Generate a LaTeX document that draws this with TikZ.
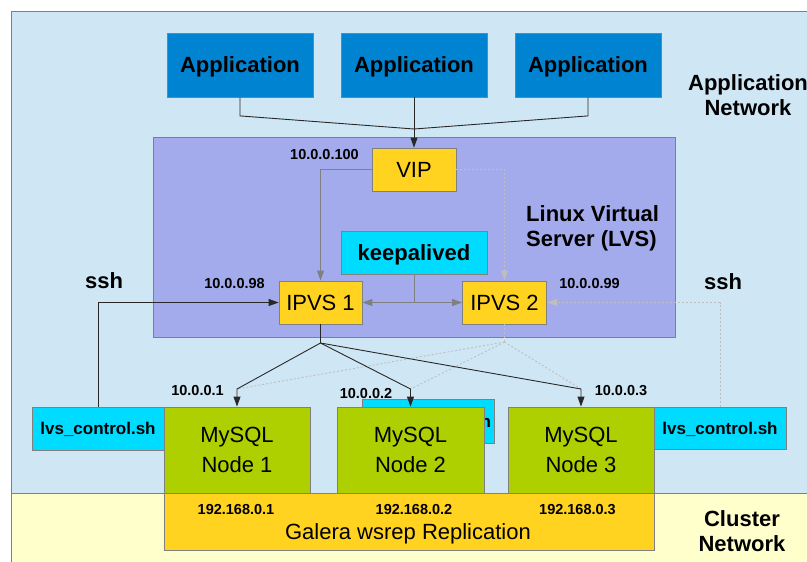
\documentclass[tikz,border=0pt]{standalone}
\usepackage{fontspec}
\setmainfont{Liberation Sans}
\usetikzlibrary{arrows.meta}
\definecolor{netblue}{RGB}{207,231,245}
\definecolor{netyellow}{RGB}{255,255,204}
\definecolor{appblue}{RGB}{0,132,209}
\definecolor{lvsviolet}{RGB}{164,171,236}
\definecolor{gold}{RGB}{255,211,32}
\definecolor{cyanbox}{RGB}{0,220,255}
\definecolor{mysqlgreen}{RGB}{174,207,0}
\definecolor{edgegray}{RGB}{128,128,128}
\definecolor{lightline}{RGB}{190,190,190}
\definecolor{darkline}{RGB}{40,40,40}
\tikzset{
  box/.style={draw=edgegray, line width=0.8pt, inner sep=0pt, align=center},
  big/.style={font=\fontsize{22}{30}\selectfont, text depth=0pt},
  bigbold/.style={font=\fontsize{22}{25}\selectfont\bfseries, text depth=0pt},
  ctlfont/.style={font=\fontsize{17}{20}\selectfont\bfseries, text depth=0pt},
  small/.style={font=\fontsize{14.5}{16}\selectfont\bfseries, inner sep=0pt},
  wire/.style={draw=darkline, line width=0.9pt},
  graywire/.style={draw=edgegray, line width=0.9pt},
  dotwire/.style={draw=lightline, line width=0.9pt, dash pattern=on 2pt off 2pt},
  tip/.style={-{Triangle[length=10pt,width=7pt]}},
}
\begin{document}
\begin{tikzpicture}[x=1pt,y=-1pt]
\useasboundingbox (0,0) rectangle (807,562);
\fill[white] (0,0) rectangle (807,562);
\draw[draw=edgegray, fill=netblue] (11,11) rectangle (830,580);
\draw[draw=edgegray, fill=netyellow] (11,493) rectangle (830,580);

\node[box, fill=appblue, minimum width=146pt, minimum height=64pt, bigbold] (app1) at (240,65) {Application};
\node[box, fill=appblue, minimum width=146pt, minimum height=64pt, bigbold] (app2) at (414,65) {Application};
\node[box, fill=appblue, minimum width=146pt, minimum height=64pt, bigbold] (app3) at (588,65) {Application};
\node[bigbold, align=center, inner sep=0pt] (appnet) at (748,95) {Application\\Network};

\draw[draw=edgegray, fill=lvsviolet] (153.5,137) rectangle (675,337.5);
\node[bigbold, align=left, anchor=west, inner sep=0pt] (lvslabel) at (526,226) {Linux Virtual\\Server (LVS)};
\node[box, fill=gold, minimum width=84pt, minimum height=43pt, big] (vip) at (414,169.5) {VIP};
\node[box, fill=cyanbox, minimum width=146pt, minimum height=43pt, bigbold] (keep) at (414,252.5) {keepalived};
\node[box, fill=gold, minimum width=83pt, minimum height=43pt, big] (ipvs1) at (320.5,302.5) {IPVS 1};
\node[box, fill=gold, minimum width=84pt, minimum height=43pt, big] (ipvs2) at (504.5,302.5) {IPVS 2};
\node[small] (vipip) at (324.5,154.5) {10.0.0.100};
\node[small] (ip98) at (234.5,283.5) {10.0.0.98};
\node[small] (ip99) at (589.5,283.5) {10.0.0.99};
\node[bigbold, inner sep=0pt] (sshl) at (104,280.5) {ssh};
\node[bigbold, inner sep=0pt] (sshr) at (723,281.5) {ssh};

\node[box, fill=cyanbox, minimum width=132pt, minimum height=43pt, ctlfont] (ctl1) at (98,428.5) {lvs\_control.sh};
\node[box, fill=cyanbox, minimum width=132pt, minimum height=44pt, ctlfont, text width=126pt, align=right] (ctl2) at (428,421) {lvs\_control.sh};
\node[box, fill=cyanbox, minimum width=132pt, minimum height=42pt, ctlfont] (ctl3) at (720,428) {lvs\_control.sh};

\node[box, fill=mysqlgreen, minimum width=146pt, minimum height=86pt, big] (node1) at (237,450) {MySQL\\Node 1};
\node[box, fill=mysqlgreen, minimum width=147pt, minimum height=86pt, big] (node2) at (410.5,450) {MySQL\\Node 2};
\node[box, fill=mysqlgreen, minimum width=146pt, minimum height=86pt, big] (node3) at (581,450) {MySQL\\Node 3};
\node[small] (ip1) at (197.5,391) {10.0.0.1};
\node[small] (ip2) at (366,394) {10.0.0.2};
\node[small] (ip3) at (621,391) {10.0.0.3};

\node[box, fill=gold, minimum width=490pt, minimum height=57pt] (galera) at (409,521.5) {};
\node[small] (gip1) at (236,509.5) {192.168.0.1};
\node[small] (gip2) at (414,509.5) {192.168.0.2};
\node[small] (gip3) at (577.5,509.5) {192.168.0.3};
\node[big, inner sep=0pt] (repl) at (408,532) {Galera wsrep Replication};
\node[bigbold, align=center, inner sep=0pt] (clusternet) at (742,531.5) {Cluster\\Network};

\coordinate (join) at (414,129);
\draw[wire] (app1.south) -- ++(0,18.5) -- (join);
\draw[wire] (app3.south) -- ++(0,18.5) -- (join);
\draw[wire, tip] (app2.south) -- (vip.north);

\draw[graywire, tip] (vip.west) -| (ipvs1.north);
\draw[dotwire, tip] (vip.east) -| (ipvs2.north);
\coordinate (kjoin) at (414,302.5);
\draw[graywire] (keep.south) -- (kjoin);
\draw[graywire, tip] (kjoin) -- (ipvs1.east);
\draw[graywire, tip] (kjoin) -- (ipvs2.west);
\draw[wire, tip] (ctl1.north) |- (ipvs1.west);
\draw[dotwire, tip] (ctl3.north) |- (ipvs2.east);

\coordinate (fan1) at (320.5,343);
\coordinate (fan2) at (504.5,342);
\coordinate (drop1) at (237,389);
\coordinate (drop2) at (410.5,389);
\coordinate (drop3) at (581,389);
\draw[dotwire] (ipvs2.south) -- (fan2);
\foreach \i in {1,2,3}
  \draw[dotwire] (fan2) -- (drop\i);
\draw[wire] (ipvs1.south) -- (fan1);
\foreach \i in {1,2,3}
  \draw[wire, tip] (fan1) -- (drop\i) -- (node\i.north);
\end{tikzpicture}
\end{document}
